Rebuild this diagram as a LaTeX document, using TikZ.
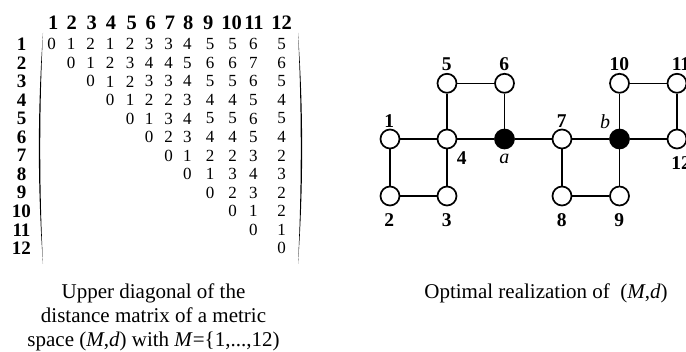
\documentclass[tikz,border=0pt]{standalone}
\usepackage{fontspec}
\setmainfont{Liberation Serif}
\begin{document}
\begin{tikzpicture}[x=1pt,y=-1pt,
  entry/.style={inner sep=0pt,font=\fontsize{17}{18}\selectfont},
  headlab/.style={inner sep=0pt,font=\fontsize{20.5}{21}\selectfont\bfseries},
  rowlab/.style={inner sep=0pt,font=\fontsize{19}{19}\selectfont\bfseries},
  vlab/.style={inner sep=0pt,font=\fontsize{19.5}{21}\selectfont\bfseries},
  ilab/.style={inner sep=0pt,font=\fontsize{20}{21}\selectfont\itshape},
  vtx/.style={circle,draw,line width=1.7pt,fill=white,minimum size=19pt,inner sep=0pt},
  hub/.style={vtx,fill=black},
  edge/.style={line width=1.5pt},
  caption/.style={inner sep=0pt,anchor=base,font=\fontsize{21}{24}\selectfont},
  paren/.style={fill=black}]
\useasboundingbox (0,0) rectangle (686,352);
\clip (0,0) rectangle (686,352);

% ---------- distance matrix ----------
\def\colxs{{51.7,71,90.7,110,130,149,168.5,187.3,210,232.5,253.3,281.5}}
\def\headxs{{53.3,71.7,91.7,111,131.7,150.7,170,188.3,208.3,231.5,254,281.7}}
\foreach \j in {1,...,12}{
  \pgfmathsetmacro\hx{\headxs[\j-1]}
  \node[headlab] (h\j) at (\hx,22.7) {\j};
}
\foreach \i/\row in {1/{0,1,2,1,2,3,3,4,5,5,6,5},
                     2/{0,1,2,3,4,4,5,6,6,7,6},
                     3/{0,1,2,3,3,4,5,5,6,5},
                     4/{0,1,2,2,3,4,4,5,4},
                     5/{0,1,3,4,5,5,6,5},
                     6/{0,2,3,4,4,5,4},
                     7/{0,1,2,2,3,2},
                     8/{0,1,3,4,3},
                     9/{0,2,3,2},
                     10/{0,1,2},
                     11/{0,1},
                     12/{0}}{
  \pgfmathsetmacro\ry{44.3+(\i-1)*18.55}
  \node[rowlab] (r\i) at (21.5,\ry) {\i};
  \foreach \v [count=\k] in \row {
    \pgfmathtruncatemacro\j{\i+\k-1}
    \pgfmathsetmacro\cx{\colxs[\j-1]}
    \node[entry] (m-\i-\j) at (\cx,\ry) {\v};
  }
}
% matrix brackets
\fill[paren] (43,33) .. controls (37.5,110) and (37.5,187) .. (43,264)
             .. controls (39.3,187) and (39.3,110) .. (43,33) -- cycle;
\fill[paren] (298,33) .. controls (303.5,110) and (303.5,187) .. (298,264)
             .. controls (301.7,187) and (301.7,110) .. (298,33) -- cycle;

% ---------- graph realization ----------
\node[vtx] (v1)  at (390,139) {};
\node[vtx] (v2)  at (390,196) {};
\node[vtx] (v3)  at (447,196) {};
\node[vtx] (v4)  at (447,139) {};
\node[vtx] (v5)  at (447,83.3) {};
\node[vtx] (v6)  at (504.5,83.3) {};
\node[hub] (va)  at (504.5,139) {};
\node[vtx] (v7)  at (562,139) {};
\node[vtx] (v8)  at (562,196) {};
\node[vtx] (v9)  at (619.5,196) {};
\node[hub] (vb)  at (619.5,139) {};
\node[vtx] (v10) at (619.5,83.3) {};
\node[vtx] (v11) at (677,83.3) {};
\node[vtx] (v12) at (677,139) {};

\foreach \p/\q in {v1/v4,v1/v2,v2/v3,v3/v4,v4/v5,v5/v6,v6/va,v4/va,va/v7,
                   v7/v8,v8/v9,v9/vb,v7/vb,vb/v10,v10/v11,v11/v12,vb/v12}
  \draw[edge] (\p) -- (\q);

\node[vlab] (l1)  at (389.3,121.5) {1};
\node[vlab] (l2)  at (389.3,220) {2};
\node[vlab] (l3)  at (446.7,220) {3};
\node[vlab] (l4)  at (461.7,158.3) {4};
\node[vlab] (l5)  at (446.7,64) {5};
\node[vlab] (l6)  at (504.3,64) {6};
\node[vlab] (l7)  at (561.7,121.5) {7};
\node[vlab] (l8)  at (561.7,220) {8};
\node[vlab] (l9)  at (619.3,220) {9};
\node[vlab] (l10) at (619.3,64) {10};
\node[vlab] (l11) at (681,64) {11};
\node[vlab] (l12) at (681,163.3) {12};
\node[ilab] (la)  at (504.3,158.5) {a};
\node[ilab] (lb)  at (605,121.7) {b};

% ---------- captions ----------
\node[caption] (c1) at (153.5,298.3) {Upper diagonal of the};
\node[caption] (c2) at (153.5,322.5) {distance matrix of a metric};
\node[caption] (c3) at (153.5,346.7) {space (\textit{M},\textit{d}) with \textit{M}=\{1,...,12)};
\node[caption] (c4) at (546,299) {Optimal realization of\ \ (\textit{M},\textit{d})};
\end{tikzpicture}
\end{document}
